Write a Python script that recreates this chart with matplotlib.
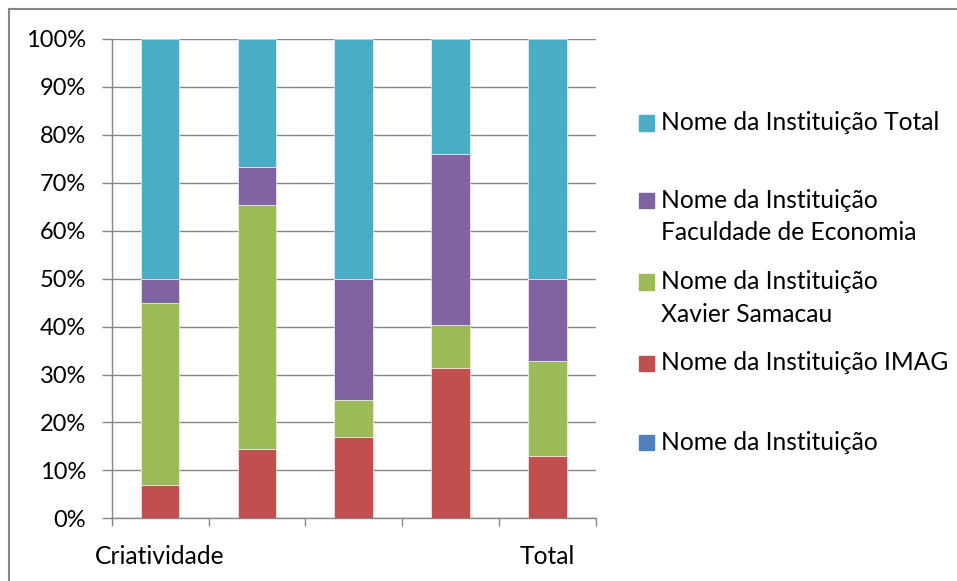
import matplotlib
matplotlib.use("Agg")
import matplotlib.pyplot as plt
from matplotlib.patches import Rectangle
from matplotlib.lines import Line2D
import numpy as np

plt.rcParams['font.family'] = ['Lato', 'DejaVu Sans']
FS = 17.7

# categorias (só a primeira e a última têm nome)
categorias = ["Criatividade", "", "", "", "Total"]

# séries, de baixo para cima na pilha (valores em %)
series = ["Nome da Instituição",
          "Nome da Instituição IMAG",
          "Nome da Instituição\nXavier Samacau",
          "Nome da Instituição\nFaculdade de Economia",
          "Nome da Instituição Total"]
nome_inst = [0, 0, 0, 0, 0]
imag = [7.0, 14.5, 17.0, 31.4, 13.0]
xavier = [38.0, 50.9, 7.6, 9.0, 19.9]
faculdade = [5.0, 7.8, 25.4, 35.7, 17.1]
total = [50.0, 26.8, 50.0, 23.9, 50.0]
cores = ["#4F81BD", "#C0504D", "#9BBB59", "#8064A2", "#4BACC6"]

dados = np.array([nome_inst, imag, xavier, faculdade, total], dtype=float)
dados = dados / dados.sum(axis=0)  # empilhado a 100%

fig = plt.figure(figsize=(9.57, 5.81), dpi=100)
ax = fig.add_axes([0.1167, 0.1079, 0.5061, 0.825])

x = np.arange(len(categorias))
base = np.zeros(len(categorias))
for vals, cor in zip(dados, cores):
    ax.bar(x, vals, 0.4, bottom=base, color=cor, edgecolor="white",
           linewidth=0.4, zorder=3)
    base += vals

ax.set_xlim(-0.5, len(categorias) - 0.5)
ax.set_ylim(0, 1)
ax.set_yticks(np.arange(0, 1.01, 0.1))
ax.set_yticklabels([f"{int(round(v * 100))}%" for v in np.arange(0, 1.01, 0.1)])
ax.set_xticks(x)
ax.set_xticklabels(categorias)
ax.set_xticks(np.arange(-0.5, len(categorias)), minor=True)
ax.tick_params(axis='x', which='major', length=0, pad=19, labelsize=FS)
ax.tick_params(axis='x', which='minor', length=6, width=1, color="#868686")
ax.tick_params(axis='y', length=7, width=1, color="#868686", labelsize=17, pad=11.5)

ax.grid(axis='y', color="#868686", linewidth=1, zorder=0)
for s in ['top', 'right']:
    ax.spines[s].set_visible(False)
for s in ['left', 'bottom']:
    ax.spines[s].set_color("#868686")
    ax.spines[s].set_linewidth(1)

# legenda desenhada à mão (ordem inversa da pilha)
W, H = 957, 581
ys = [123, 200, 282, 363, 442]
for y, nome, cor in zip(ys, series[::-1], cores[::-1]):
    fig.add_artist(Rectangle((639 / W, 1 - (y + 7.5) / H), 15 / W, 15 / H,
                             transform=fig.transFigure, color=cor))
    linhas = nome.split("\n")
    for i, linha in enumerate(linhas):
        fig.text(661 / W, 1 - (y + 33 * i) / H, linha, va='center',
                 ha='left', fontsize=FS)

# moldura do gráfico (só topo e lado esquerdo aparecem)
fig.add_artist(Line2D([8.5 / W, 1], [1 - 9 / H, 1 - 9 / H], transform=fig.transFigure,
                      color="#868686", linewidth=1.5))
fig.add_artist(Line2D([9 / W, 9 / W], [1 - 9 / H, 0], transform=fig.transFigure,
                      color="#868686", linewidth=1.5))

fig.savefig("out.png", dpi=100)
